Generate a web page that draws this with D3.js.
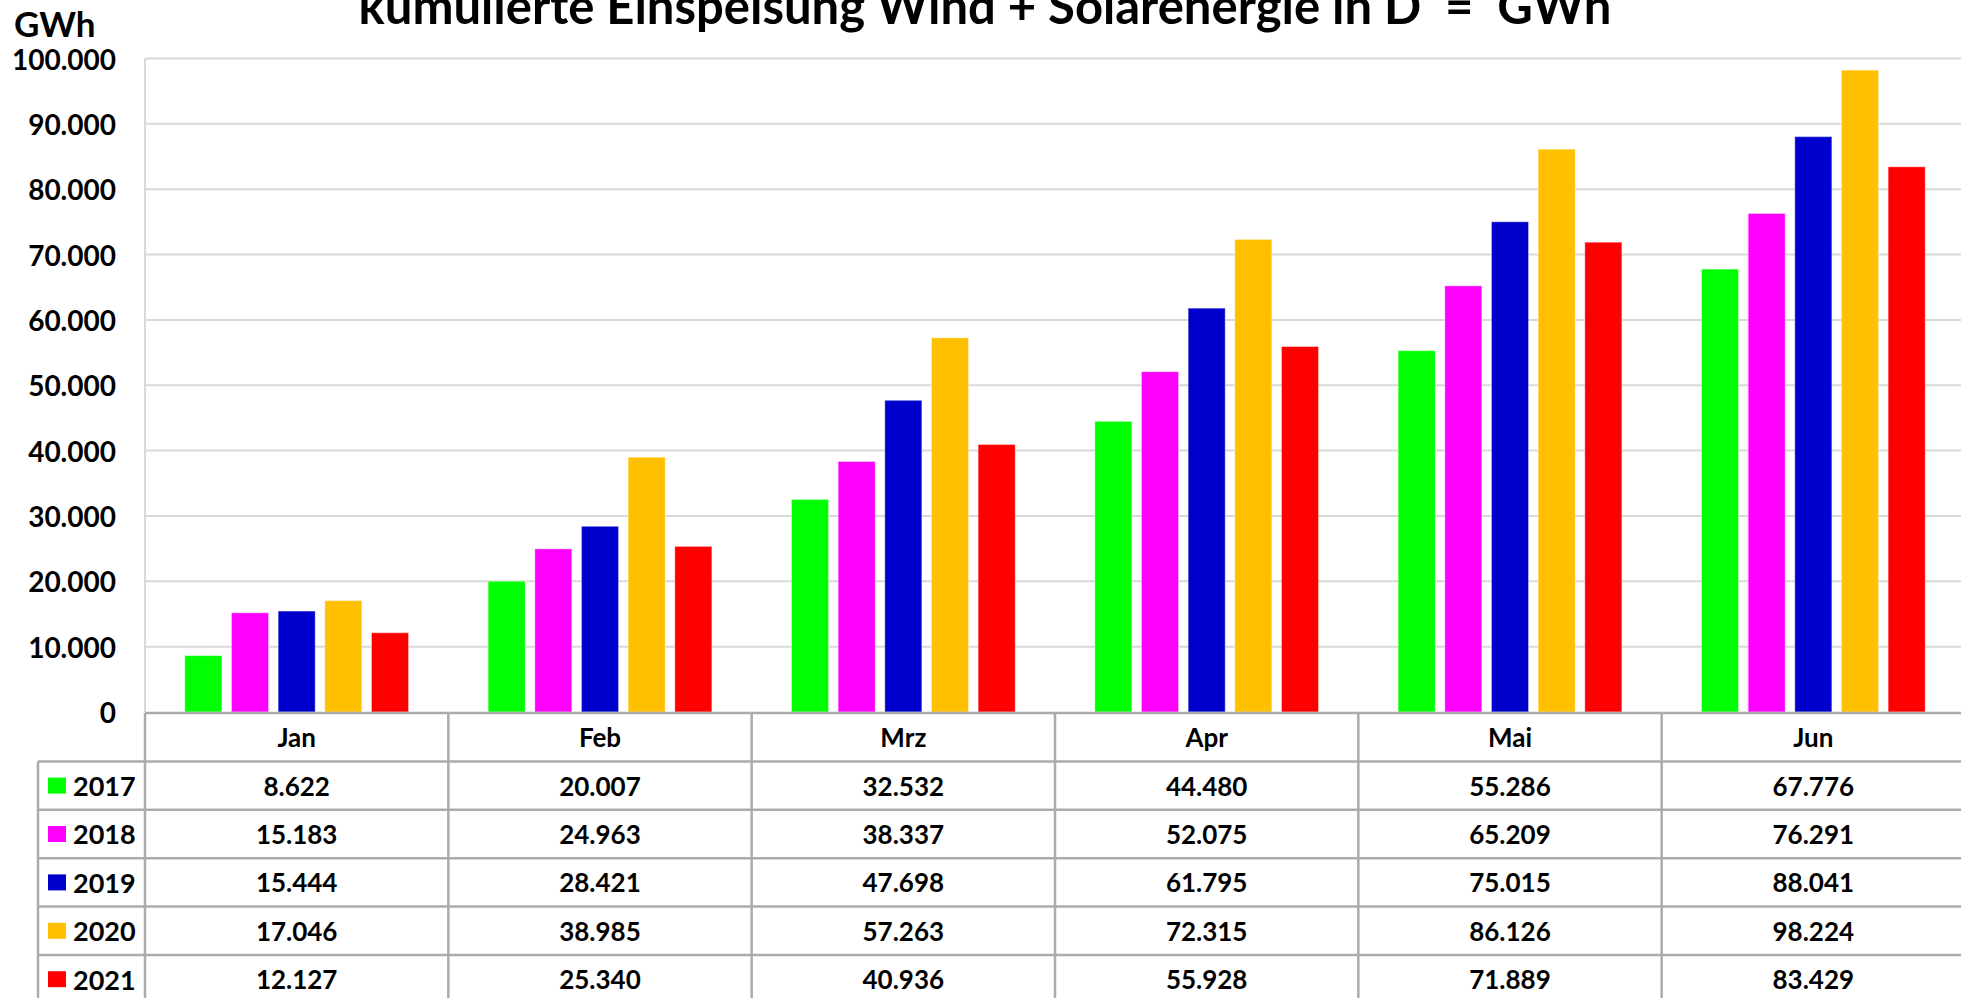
<!DOCTYPE html>
<html>
<head>
<meta charset="utf-8">
<script src="https://cdn.jsdelivr.net/npm/d3@7"></script>
<style>
	body { margin: 0; background: #fff; }
	svg { display: block; font-family: Lato, "Liberation Sans", sans-serif; font-weight: bold; }
</style>
</head>
<body>
<svg id="chart" width="1961" height="998"></svg>
<script>

var months = ["Jan", "Feb", "Mrz", "Apr", "Mai", "Jun"];
var years = ["2017", "2018", "2019", "2020", "2021"];
var yearColors = ["#00ff00", "#ff00ff", "#0000cc", "#ffc000", "#ff0000"];

var values2017 = [8622, 20007, 32532, 44480, 55286, 67776];
var values2018 = [15183, 24963, 38337, 52075, 65209, 76291];
var values2019 = [15444, 28421, 47698, 61795, 75015, 88041];
var values2020 = [17046, 38985, 57263, 72315, 86126, 98224];
var values2021 = [12127, 25340, 40936, 55928, 71889, 83429];

var yTicks = [0, 10000, 20000, 30000, 40000, 50000, 60000, 70000, 80000, 90000, 100000];

var titleText = "kumulierte Einspeisung Wind + Solarenergie in D  =  GWh";
var unitText = "GWh";

function renderChart(element) {

	var series = [values2017, values2018, values2019, values2020, values2021];

	var svg = d3.select(element);

	var left = 145;
	var right = 1965; // table runs a little past the picture edge
	var top = 58.5;
	var bottom = 712;
	var rowHeight = 48.4;
	var legendLeft = 38;
	var gridColor = "#d9d9d9";
	var tableColor = "#ababab";

	// german number format: 100.000
	var de = d3.formatLocale({ decimal: ",", thousands: ".", grouping: [3], currency: ["", " €"] });
	var fmt = de.format(",d");

	var y = d3.scaleLinear()
		.domain([0, 100000])
		.range([bottom, top]);

	var x0 = d3.scaleBand()
		.domain(months)
		.range([left, right]);

	var x1 = d3.scaleBand()
		.domain(years)
		.range([0, x0.bandwidth()])
		.paddingInner(0.206)
		.paddingOuter(0.853);

	// gridlines
	svg.append("g")
		.selectAll("line")
		.data(yTicks.filter(d => d > 0))
		.enter()
		.append("line")
		.attr("x1", left)
		.attr("x2", right)
		.attr("y1", d => y(d))
		.attr("y2", d => y(d))
		.attr("stroke", gridColor)
		.attr("stroke-width", 2);

	// left axis line
	svg.append("line")
		.attr("x1", left)
		.attr("x2", left)
		.attr("y1", top)
		.attr("y2", bottom)
		.attr("stroke", gridColor)
		.attr("stroke-width", 2);

	// tick labels
	svg.append("g")
		.selectAll("text")
		.data(yTicks)
		.enter()
		.append("text")
		.attr("x", 116)
		.attr("y", d => y(d))
		.attr("text-anchor", "end")
		.attr("dominant-baseline", "central")
		.attr("font-size", "28px")
		.attr("fill", "#000")
		.text(d => fmt(d));

	// bars
	var groups = svg.append("g")
		.selectAll("g")
		.data(years)
		.enter()
		.append("g")
		.attr("fill", (_, i) => yearColors[i]);

	groups.selectAll("rect")
		.data((yr, i) => series[i].map((v, m) => ({ year: yr, month: months[m], value: v })))
		.enter()
		.append("rect")
		.attr("x", d => x0(d.month) + x1(d.year))
		.attr("y", d => y(d.value))
		.attr("width", x1.bandwidth())
		.attr("height", d => bottom - y(d.value))
		.attr("stroke", "#ffffff")
		.attr("stroke-opacity", 0.4)
		.attr("stroke-width", 1);

	// data table below the plot
	var table = svg.append("g");
	var headTop = bottom + 1;
	var tableBottom = headTop + rowHeight * (years.length + 1);

	// horizontal rules
	table.append("line")
		.attr("x1", left).attr("x2", right)
		.attr("y1", headTop).attr("y2", headTop)
		.attr("stroke", tableColor).attr("stroke-width", 2.5);

	table.selectAll("line.row")
		.data(d3.range(1, years.length + 1))
		.enter()
		.append("line")
		.attr("class", "row")
		.attr("x1", legendLeft)
		.attr("x2", right)
		.attr("y1", i => headTop + i * rowHeight)
		.attr("y2", i => headTop + i * rowHeight)
		.attr("stroke", tableColor)
		.attr("stroke-width", 2.5);

	// vertical rules
	var colEdges = months.map(m => x0(m)).concat([right]);

	table.selectAll("line.col")
		.data(colEdges)
		.enter()
		.append("line")
		.attr("class", "col")
		.attr("x1", d => d)
		.attr("x2", d => d)
		.attr("y1", headTop)
		.attr("y2", tableBottom)
		.attr("stroke", tableColor)
		.attr("stroke-width", 2.5);

	table.append("line")
		.attr("x1", legendLeft).attr("x2", legendLeft)
		.attr("y1", headTop + rowHeight).attr("y2", tableBottom)
		.attr("stroke", tableColor).attr("stroke-width", 2.5);

	// month header
	table.selectAll("text.month")
		.data(months)
		.enter()
		.append("text")
		.attr("class", "month")
		.attr("x", d => x0(d) + x0.bandwidth() / 2)
		.attr("y", headTop + rowHeight / 2)
		.attr("text-anchor", "middle")
		.attr("dominant-baseline", "central")
		.attr("font-size", "26px")
		.text(d => d);

	// legend keys + year labels
	var legendRows = table.selectAll("g.legend")
		.data(years)
		.enter()
		.append("g")
		.attr("class", "legend")
		.attr("transform", (_, i) => "translate(0," + (headTop + (i + 1) * rowHeight) + ")");

	legendRows.append("rect")
		.attr("x", 48)
		.attr("y", rowHeight / 2 - 8)
		.attr("width", 18)
		.attr("height", 16)
		.attr("fill", (_, i) => yearColors[i]);

	legendRows.append("text")
		.attr("x", 73)
		.attr("y", rowHeight / 2)
		.attr("dominant-baseline", "central")
		.attr("font-size", "27px")
		.text(d => d);

	// values
	legendRows.selectAll("text.val")
		.data((_, i) => series[i])
		.enter()
		.append("text")
		.attr("class", "val")
		.attr("x", (_, m) => x0(months[m]) + x0.bandwidth() / 2)
		.attr("y", rowHeight / 2)
		.attr("text-anchor", "middle")
		.attr("dominant-baseline", "central")
		.attr("font-size", "26px")
		.text(d => fmt(d));

	// title + unit (title top is clipped by the picture edge, as in the source)
	svg.append("text")
		.attr("x", 985)
		.attr("y", 24)
		.attr("text-anchor", "middle")
		.attr("font-size", "49px")
		.style("white-space", "pre")
		.text(titleText);

	svg.append("text")
		.attr("x", 14)
		.attr("y", 37)
		.attr("font-size", "35px")
		.text(unitText);
}

renderChart("#chart");

</script>
</body>
</html>
